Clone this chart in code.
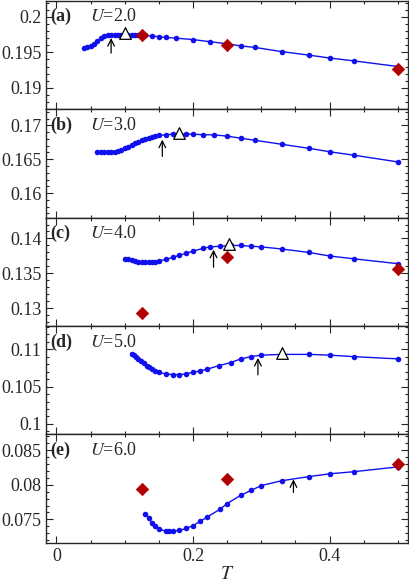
import numpy as np, pandas as pd, seaborn as sns, matplotlib
matplotlib.use("Agg")
import matplotlib.pyplot as plt
from matplotlib.ticker import AutoMinorLocator

sns.set_theme(style="ticks")
plt.rcParams['font.family'] = ['Liberation Serif', 'DejaVu Serif']
plt.rcParams['mathtext.fontset'] = 'stix'

labels = ["(a)", "(b)", "(c)", "(d)", "(e)"]
U_values = ["2.0", "3.0", "4.0", "5.0", "6.0"]

T_a = [0.04,0.045,0.05,0.055,0.06,0.065,0.07,0.075,0.08,0.085,0.09,0.095,0.1,0.105,0.11,0.115,0.12,0.13,0.14,0.15,0.16,0.175,0.2,0.225,0.25,0.27,0.29,0.33,0.37,0.4,0.435,0.5]
D_a = [0.1956,0.1957,0.1959,0.1962,0.1966,0.1970,0.1973,0.1974,0.1975,0.1975,0.1975,0.1975,0.1975,0.1975,0.1975,0.1975,0.1974,0.1974,0.1973,0.1972,0.1971,0.1970,0.1968,0.1965,0.1962,0.1959,0.1957,0.1951,0.1946,0.1942,0.1938,0.1930]
T_b = [0.06,0.065,0.07,0.075,0.08,0.085,0.09,0.095,0.1,0.105,0.11,0.115,0.12,0.125,0.13,0.135,0.14,0.145,0.15,0.16,0.17,0.18,0.19,0.2,0.215,0.23,0.25,0.27,0.29,0.33,0.37,0.4,0.435,0.5]
D_b = [0.1660,0.1660,0.1660,0.1660,0.1660,0.1661,0.1662,0.1664,0.1666,0.1668,0.1671,0.1674,0.1676,0.1678,0.1680,0.1682,0.1683,0.1684,0.1685,0.1686,0.1687,0.1687,0.1687,0.1687,0.1686,0.1686,0.1684,0.1681,0.1678,0.1672,0.1666,0.1661,0.1656,0.1646]
T_c = [0.1,0.105,0.11,0.115,0.12,0.125,0.13,0.135,0.14,0.145,0.15,0.16,0.17,0.18,0.19,0.2,0.215,0.225,0.24,0.255,0.27,0.285,0.3,0.33,0.37,0.4,0.435,0.5]
D_c = [0.1371,0.1370,0.1369,0.1368,0.1367,0.1366,0.1366,0.1366,0.1366,0.1367,0.1368,0.1370,0.1373,0.1376,0.1379,0.1382,0.1386,0.1388,0.1389,0.1390,0.1390,0.1389,0.1388,0.1385,0.1380,0.1375,0.1371,0.1364]
T_d = [0.11,0.113,0.116,0.12,0.124,0.128,0.132,0.136,0.14,0.145,0.15,0.16,0.17,0.18,0.19,0.2,0.21,0.22,0.238,0.255,0.27,0.285,0.3,0.33,0.37,0.4,0.435,0.5]
D_d = [0.1094,0.1092,0.1090,0.1087,0.1084,0.1081,0.1078,0.1076,0.1073,0.1071,0.1069,0.1067,0.1066,0.1066,0.1067,0.1069,0.1071,0.1073,0.1078,0.1082,0.1087,0.1090,0.1092,0.1093,0.1093,0.1092,0.1090,0.1087]
T_e = [0.13,0.135,0.14,0.145,0.15,0.16,0.165,0.17,0.18,0.19,0.2,0.21,0.22,0.24,0.25,0.27,0.285,0.3,0.33,0.37,0.4,0.435,0.5]
D_e = [0.0758,0.0752,0.0745,0.0740,0.0736,0.0733,0.0733,0.0733,0.0734,0.0737,0.0741,0.0747,0.0753,0.0765,0.0773,0.0785,0.0792,0.0799,0.0806,0.0812,0.0816,0.0819,0.0826]
T_list = [T_a, T_b, T_c, T_d, T_e]
D_list = [D_a, D_b, D_c, D_d, D_e]

dia_T = [[0.125,0.25,0.5], [], [0.125,0.25,0.5], [], [0.125,0.25,0.5]]
dia_D = [[0.1975,0.1961,0.1927], [], [0.1293,0.1374,0.1357], [], [0.0794,0.0809,0.0830]]
tri_T = [0.1, 0.18, 0.253, 0.33, None]
tri_D = [0.1977, 0.1689, 0.1392, 0.1095, None]
arr_T = [0.08, 0.155, 0.23, 0.295, 0.347]
arr_lo = [0.1945, 0.1650, 0.1355, 0.1062, 0.0785]
arr_hi = [0.1974, 0.1683, 0.1388, 0.1092, 0.0812]

ylims = [(0.1870, 0.2023), (0.1564, 0.1724), (0.1275, 0.1430), (0.0986, 0.1131), (0.0716, 0.0873)]
yticks = [[0.19,0.195,0.2],[0.16,0.165,0.17],[0.13,0.135,0.14],[0.1,0.105,0.11],[0.075,0.08,0.085]]
yticklabels = [["0.19","0.195","0.2"],["0.16","0.165","0.17"],["0.13","0.135","0.14"],["0.1","0.105","0.11"],["0.075","0.08","0.085"]]

fig, axes = plt.subplots(5, 1, figsize=(4.09, 5.85), dpi=100, sharex=True)
fig.subplots_adjust(left=0.113, right=0.998, top=0.999, bottom=0.072, hspace=0.0)

for i, ax in enumerate(axes):
    df = pd.DataFrame({"T": T_list[i], "D": D_list[i]})
    sns.lineplot(data=df, x="T", y="D", ax=ax, color="#1010ee", lw=1.0,
                 marker="o", markersize=4, markeredgewidth=0, zorder=3)
    if dia_T[i]:
        sns.scatterplot(x=dia_T[i], y=dia_D[i], ax=ax, marker="D", s=40,
                        color="#b00000", edgecolor="#b00000", zorder=4)
    if tri_T[i] is not None:
        ax.scatter([tri_T[i]], [tri_D[i]], marker="^", s=70, facecolor="white",
                   edgecolor="black", linewidth=0.9, zorder=5)
    ax.annotate("", xy=(arr_T[i], arr_hi[i]), xytext=(arr_T[i], arr_lo[i]),
                arrowprops=dict(arrowstyle="->", color="black", lw=0.9), zorder=6)
    ax.text(0.012, 0.93, labels[i], transform=ax.transAxes, fontsize=13,
            fontweight="bold", va="top", ha="left")
    ax.text(0.12, 0.93, "$U$=" + U_values[i], transform=ax.transAxes, fontsize=13,
            va="top", ha="left")
    ax.set_xlim(-0.015, 0.515)
    ax.set_ylim(*ylims[i])
    ax.set_yticks(yticks[i])
    ax.set_yticklabels(yticklabels[i])
    ax.set_xticks([0, 0.2, 0.4])
    ax.set_xticklabels(["0", "0.2", "0.4"])
    ax.xaxis.set_minor_locator(AutoMinorLocator(4))
    ax.yaxis.set_minor_locator(AutoMinorLocator(5))
    ax.tick_params(which="both", direction="in", top=True, right=True, labelsize=13, width=0.8)
    ax.tick_params(which="major", length=5)
    ax.tick_params(which="minor", length=2.5)
    ax.set_ylabel("")
    ax.set_xlabel("")
    for s in ax.spines.values():
        s.set_linewidth(1.0)

axes[-1].set_xlabel("$T$", fontsize=14, labelpad=1)
fig.savefig("out.png", dpi=100)
